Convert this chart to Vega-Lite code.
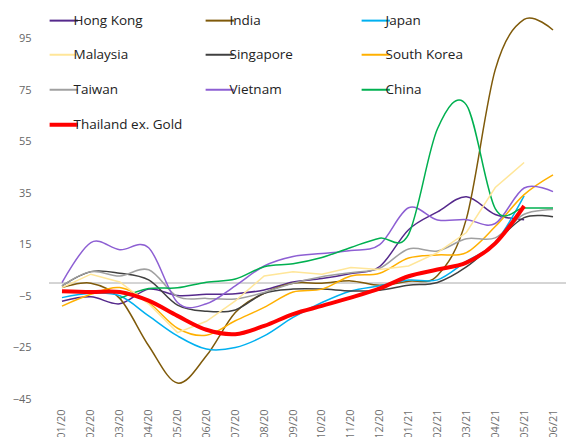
{
"$schema":"https://vega.github.io/schema/vega-lite/v6.json",
"width":517,"height":386,
"autosize":{"type":"none"},
"padding":{"left":49,"top":13,"right":0,"bottom":38},
"config":{"view":{"stroke":null},"font":"Open Sans"},
"data":{"values":[
{"month":"01/20","country":"Hong Kong","value":-7},{"month":"02/20","country":"Hong Kong","value":-5.3},{"month":"03/20","country":"Hong Kong","value":-8},{"month":"04/20","country":"Hong Kong","value":-2.3},{"month":"05/20","country":"Hong Kong","value":-4.8},{"month":"06/20","country":"Hong Kong","value":-4.3},{"month":"07/20","country":"Hong Kong","value":-4.1},{"month":"08/20","country":"Hong Kong","value":-2.6},{"month":"09/20","country":"Hong Kong","value":0.5},{"month":"10/20","country":"Hong Kong","value":1.8},{"month":"11/20","country":"Hong Kong","value":3.8},{"month":"12/20","country":"Hong Kong","value":6.5},{"month":"01/21","country":"Hong Kong","value":20.8},{"month":"02/21","country":"Hong Kong","value":27.7},{"month":"03/21","country":"Hong Kong","value":33.6},{"month":"04/21","country":"Hong Kong","value":26.7},{"month":"05/21","country":"Hong Kong","value":24.7},
{"month":"01/20","country":"India","value":-1.7},{"month":"02/20","country":"India","value":0},{"month":"03/20","country":"India","value":-5.9},{"month":"04/20","country":"India","value":-24.3},{"month":"05/20","country":"India","value":-38.8},{"month":"06/20","country":"India","value":-28.2},{"month":"07/20","country":"India","value":-11.4},{"month":"08/20","country":"India","value":-3.9},{"month":"09/20","country":"India","value":0},{"month":"10/20","country":"India","value":0},{"month":"11/20","country":"India","value":0.9},{"month":"12/20","country":"India","value":-0.8},{"month":"01/21","country":"India","value":0.8},{"month":"02/21","country":"India","value":3},{"month":"03/21","country":"India","value":25},{"month":"04/21","country":"India","value":83},{"month":"05/21","country":"India","value":102.5},{"month":"06/21","country":"India","value":98.4},
{"month":"01/20","country":"Japan","value":-5.6},{"month":"02/20","country":"Japan","value":-3.9},{"month":"03/20","country":"Japan","value":-4.9},{"month":"04/20","country":"Japan","value":-12.7},{"month":"05/20","country":"Japan","value":-20.5},{"month":"06/20","country":"Japan","value":-25.6},{"month":"07/20","country":"Japan","value":-25},{"month":"08/20","country":"Japan","value":-20.5},{"month":"09/20","country":"Japan","value":-13.3},{"month":"10/20","country":"Japan","value":-7.5},{"month":"11/20","country":"Japan","value":-3},{"month":"12/20","country":"Japan","value":-1},{"month":"01/21","country":"Japan","value":1.2},{"month":"02/21","country":"Japan","value":1.3},{"month":"03/21","country":"Japan","value":8.5},{"month":"04/21","country":"Japan","value":15.8},{"month":"05/21","country":"Japan","value":33.9},
{"month":"01/20","country":"Malaysia","value":-1.7},{"month":"02/20","country":"Malaysia","value":3.5},{"month":"03/20","country":"Malaysia","value":0.5},{"month":"04/20","country":"Malaysia","value":-8},{"month":"05/20","country":"Malaysia","value":-19.2},{"month":"06/20","country":"Malaysia","value":-14.8},{"month":"07/20","country":"Malaysia","value":-6.9},{"month":"08/20","country":"Malaysia","value":2.8},{"month":"09/20","country":"Malaysia","value":4.4},{"month":"10/20","country":"Malaysia","value":3.5},{"month":"11/20","country":"Malaysia","value":6.1},{"month":"12/20","country":"Malaysia","value":5.3},{"month":"01/21","country":"Malaysia","value":6.7},{"month":"02/21","country":"Malaysia","value":11.9},{"month":"03/21","country":"Malaysia","value":19.7},{"month":"04/21","country":"Malaysia","value":37.2},{"month":"05/21","country":"Malaysia","value":46.9},
{"month":"01/20","country":"Singapore","value":-1},{"month":"02/20","country":"Singapore","value":4.5},{"month":"03/20","country":"Singapore","value":3.9},{"month":"04/20","country":"Singapore","value":1.3},{"month":"05/20","country":"Singapore","value":-8.5},{"month":"06/20","country":"Singapore","value":-10.9},{"month":"07/20","country":"Singapore","value":-10.4},{"month":"08/20","country":"Singapore","value":-3.9},{"month":"09/20","country":"Singapore","value":-2.3},{"month":"10/20","country":"Singapore","value":-2.3},{"month":"11/20","country":"Singapore","value":-3},{"month":"12/20","country":"Singapore","value":-2.7},{"month":"01/21","country":"Singapore","value":-0.8},{"month":"02/21","country":"Singapore","value":0.3},{"month":"03/21","country":"Singapore","value":6.3},{"month":"04/21","country":"Singapore","value":15.8},{"month":"05/21","country":"Singapore","value":25.5},{"month":"06/21","country":"Singapore","value":25.8},
{"month":"01/20","country":"South Korea","value":-8.9},{"month":"02/20","country":"South Korea","value":-4.3},{"month":"03/20","country":"South Korea","value":-1.7},{"month":"04/20","country":"South Korea","value":-7.5},{"month":"05/20","country":"South Korea","value":-17.5},{"month":"06/20","country":"South Korea","value":-20.2},{"month":"07/20","country":"South Korea","value":-14.6},{"month":"08/20","country":"South Korea","value":-9.4},{"month":"09/20","country":"South Korea","value":-3.4},{"month":"10/20","country":"South Korea","value":-2.3},{"month":"11/20","country":"South Korea","value":2.8},{"month":"12/20","country":"South Korea","value":3.9},{"month":"01/21","country":"South Korea","value":9.8},{"month":"02/21","country":"South Korea","value":11},{"month":"03/21","country":"South Korea","value":11.9},{"month":"04/21","country":"South Korea","value":22},{"month":"05/21","country":"South Korea","value":34.4},{"month":"06/21","country":"South Korea","value":42.1},
{"month":"01/20","country":"Taiwan","value":-1},{"month":"02/20","country":"Taiwan","value":4.5},{"month":"03/20","country":"Taiwan","value":2.8},{"month":"04/20","country":"Taiwan","value":5.2},{"month":"05/20","country":"Taiwan","value":-5.2},{"month":"06/20","country":"Taiwan","value":-5.9},{"month":"07/20","country":"Taiwan","value":-6.1},{"month":"08/20","country":"Taiwan","value":-3.6},{"month":"09/20","country":"Taiwan","value":0},{"month":"10/20","country":"Taiwan","value":2.5},{"month":"11/20","country":"Taiwan","value":4.1},{"month":"12/20","country":"Taiwan","value":5.8},{"month":"01/21","country":"Taiwan","value":13.3},{"month":"02/21","country":"Taiwan","value":12.5},{"month":"03/21","country":"Taiwan","value":17.3},{"month":"04/21","country":"Taiwan","value":17.6},{"month":"05/21","country":"Taiwan","value":26.8},{"month":"06/21","country":"Taiwan","value":28.6},
{"month":"01/20","country":"Vietnam","value":0.2},{"month":"02/20","country":"Vietnam","value":15.8},{"month":"03/20","country":"Vietnam","value":13},{"month":"04/20","country":"Vietnam","value":13.8},{"month":"05/20","country":"Vietnam","value":-7.5},{"month":"06/20","country":"Vietnam","value":-8},{"month":"07/20","country":"Vietnam","value":-1},{"month":"08/20","country":"Vietnam","value":6.7},{"month":"09/20","country":"Vietnam","value":10.4},{"month":"10/20","country":"Vietnam","value":11.5},{"month":"11/20","country":"Vietnam","value":12.7},{"month":"12/20","country":"Vietnam","value":15},{"month":"01/21","country":"Vietnam","value":29.3},{"month":"02/21","country":"Vietnam","value":24.6},{"month":"03/21","country":"Vietnam","value":24.7},{"month":"04/21","country":"Vietnam","value":23.2},{"month":"05/21","country":"Vietnam","value":37},{"month":"06/21","country":"Vietnam","value":35.6},
{"month":"03/20","country":"China","value":-5.9},{"month":"04/20","country":"China","value":-2.1},{"month":"05/20","country":"China","value":-1.8},{"month":"06/20","country":"China","value":0.4},{"month":"07/20","country":"China","value":1.6},{"month":"08/20","country":"China","value":6.4},{"month":"09/20","country":"China","value":7.6},{"month":"10/20","country":"China","value":10},{"month":"11/20","country":"China","value":13.9},{"month":"12/20","country":"China","value":17.5},{"month":"01/21","country":"China","value":19},{"month":"02/21","country":"China","value":60},{"month":"03/21","country":"China","value":69.3},{"month":"04/21","country":"China","value":29},{"month":"05/21","country":"China","value":29.2},{"month":"06/21","country":"China","value":29.2},
{"month":"01/20","country":"Thailand ex. Gold","value":-3.1},{"month":"02/20","country":"Thailand ex. Gold","value":-3.4},{"month":"03/20","country":"Thailand ex. Gold","value":-3.4},{"month":"04/20","country":"Thailand ex. Gold","value":-6.8},{"month":"05/20","country":"Thailand ex. Gold","value":-12.7},{"month":"06/20","country":"Thailand ex. Gold","value":-18.1},{"month":"07/20","country":"Thailand ex. Gold","value":-19.8},{"month":"08/20","country":"Thailand ex. Gold","value":-16.6},{"month":"09/20","country":"Thailand ex. Gold","value":-12},{"month":"10/20","country":"Thailand ex. Gold","value":-8.8},{"month":"11/20","country":"Thailand ex. Gold","value":-5.6},{"month":"12/20","country":"Thailand ex. Gold","value":-2},{"month":"01/21","country":"Thailand ex. Gold","value":2.7},{"month":"02/21","country":"Thailand ex. Gold","value":5.3},{"month":"03/21","country":"Thailand ex. Gold","value":8},{"month":"04/21","country":"Thailand ex. Gold","value":15.5},{"month":"05/21","country":"Thailand ex. Gold","value":30}
]},
"layer":[
{"mark":{"type":"rule","color":"#d4d4d4","strokeWidth":1},
 "encoding":{"y":{"datum":0,"type":"quantitative"}}},
{"transform":[{"filter":"datum.country !== 'Malaysia' && datum.country !== 'Thailand ex. Gold'"}],
 "mark":{"type":"line","interpolate":"cardinal","strokeWidth":1.5},
 "encoding":{
  "x":{"field":"month","type":"ordinal","scale":{"type":"point","padding":0.45,"domain":["01/20","02/20","03/20","04/20","05/20","06/20","07/20","08/20","09/20","10/20","11/20","12/20","01/21","02/21","03/21","04/21","05/21","06/21"]},
       "axis":{"labelAngle":-90,"ticks":false,"domain":false,"grid":false,"labelPadding":10,"labelColor":"#707070","labelFontSize":11,"title":null}},
  "y":{"field":"value","type":"quantitative","scale":{"domain":[-45,105],"nice":false,"zero":false},
       "axis":{"values":[-45,-25,-5,15,35,55,75,95],"grid":false,"domain":false,"ticks":false,"tickSize":0,"labelPadding":18,"labelColor":"#666666","labelFontSize":11,"title":null}},
  "color":{"field":"country","type":"nominal",
    "scale":{"domain":["Hong Kong","India","Japan","Malaysia","Singapore","South Korea","Taiwan","Vietnam","China","Thailand ex. Gold"],
             "range":["#55298C","#7F5A0A","#00B0F0","#FFE699","#404040","#FFB000","#A0A0A0","#8D5FD3","#00B050","#FF0000"]},
    "legend":{"title":null,"orient":"none","direction":"horizontal","legendX":8,"legendY":0,"columns":3,"gridAlign":"all","columnPadding":18,"rowPadding":18,
              "symbolType":"stroke","symbolSize":800,"symbolStrokeWidth":2,"labelFontSize":13.5,"labelOffset":3,"labelColor":"#222222",
              "encode":{"symbols":{"update":{"strokeWidth":{"signal":"datum.value === 'Thailand ex. Gold' ? 4 : 2"}}}}}}
 }},
{"transform":[{"filter":"datum.country === 'Malaysia'"}],
 "mark":{"type":"line","strokeWidth":1.5},
 "encoding":{"x":{"field":"month","type":"ordinal"},"y":{"field":"value","type":"quantitative"},"color":{"field":"country","type":"nominal"}}},
{"transform":[{"filter":"datum.country === 'Thailand ex. Gold'"}],
 "mark":{"type":"line","interpolate":"cardinal","strokeWidth":4},
 "encoding":{"x":{"field":"month","type":"ordinal"},"y":{"field":"value","type":"quantitative"},"color":{"field":"country","type":"nominal"}}}
]
}
